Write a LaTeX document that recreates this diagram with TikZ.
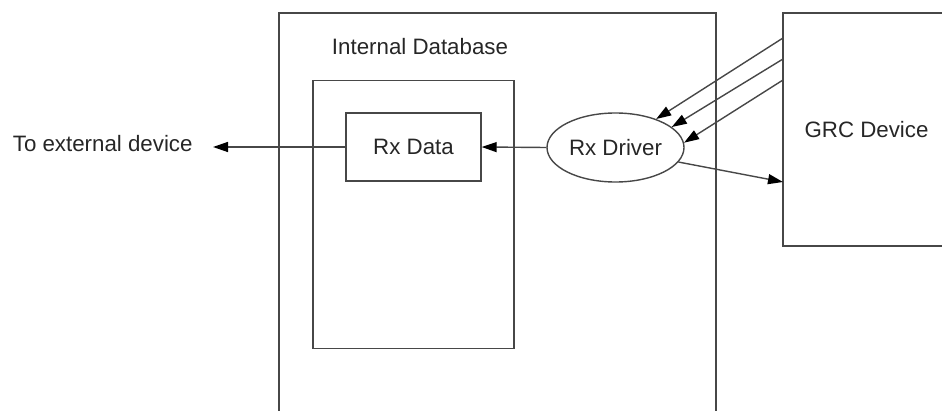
\documentclass[tikz,border=0pt]{standalone}
\usepackage{fontspec}
\setmainfont{Liberation Sans}
\usetikzlibrary{arrows.meta,shapes.geometric}
\begin{document}
\begin{tikzpicture}[x=1pt,y=-1pt,
  ln/.style={draw=black!72,line width=1.4pt},
  box/.style={ln,rectangle,inner sep=0pt},
  txt/.style={text=black!85,font=\fontsize{22.3}{26}\selectfont,inner sep=0pt},
  arr/.style={ln,-{Triangle[length=15pt,width=10pt,fill=black,color=black]}}]
\useasboundingbox (0,0) rectangle (942,411);
\clip (0,0) rectangle (942,411);
\node[box,minimum width=437pt,minimum height=417pt] (outer) at (497.5,221.5) {};
\node[txt,anchor=base] (dbl) at (420,55) {Internal Database};
\node[box,minimum width=201pt,minimum height=268pt] (inner) at (413.5,214.5) {};
\node[box,txt,ln,fill=white,minimum width=135pt,minimum height=68pt] (rxdata) at (413.5,147) {Rx Data};
\node[ln,txt,ellipse,inner sep=0pt,minimum width=137pt,minimum height=69pt] (drv) at (615.5,147.5) {Rx Driver};
\node[box,txt,ln,minimum width=175pt,minimum height=233pt] (grc) at (870.5,129.5) {\hspace*{-8pt}GRC Device};
\node[txt,anchor=base] (ext) at (102.7,152) {To external device};
\coordinate (extend) at (213,147);
\coordinate (g1) at (783,38);
\coordinate (g2) at (783,59);
\coordinate (g3) at (783,80);
\coordinate (g4) at (783,182);
\draw[arr] (rxdata.west) -- (extend);
\draw[arr] (drv.west) -- (rxdata.east);
\draw[arr] (g1) -- (drv.35);
\draw[arr] (g2) -- (drv.20);
\draw[arr] (g3) -- (drv.4);
\draw[arr] (drv.-13) -- (g4);
\end{tikzpicture}
\end{document}
